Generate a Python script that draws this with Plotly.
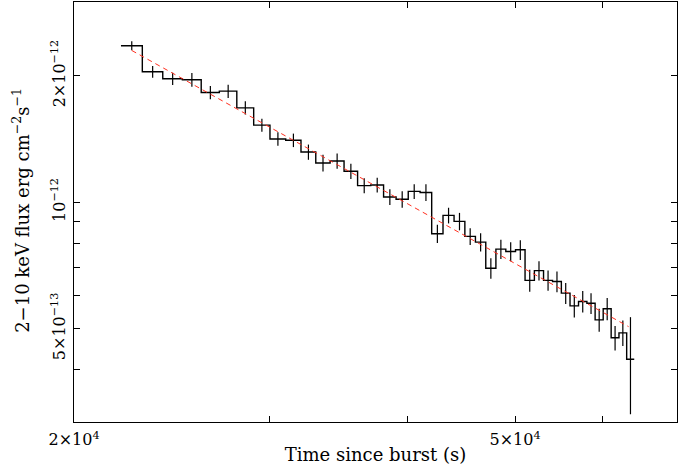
import plotly.graph_objects as go

# ---- data ----
time_s = [22550, 23550, 24550, 25550, 26550, 27550, 28550, 29550, 30550, 31550,
          32550, 33550, 34550, 35550, 36550, 37550, 38550, 39550, 40550, 41550,
          42550, 43550, 44550, 45550, 46550, 47550, 48550, 49550, 50550, 51550,
          52550, 53550, 54550, 55550, 56550, 57550, 58550, 59550, 60550, 61550,
          62550, 63550]
bin_half_width = 500
flux = [2.360, 2.046, 1.969, 1.958, 1.827, 1.840, 1.679, 1.527, 1.416, 1.406,
        1.318, 1.241, 1.255, 1.186, 1.096, 1.100, 1.030, 1.017, 1.062, 1.056,
        0.842, 0.931, 0.901, 0.830, 0.804, 0.697, 0.774, 0.764, 0.771, 0.652,
        0.688, 0.652, 0.648, 0.608, 0.567, 0.581, 0.575, 0.525, 0.558, 0.476,
        0.489, 0.423]
flux_err = [0.058, 0.065, 0.066, 0.074, 0.067, 0.067, 0.061, 0.055, 0.052, 0.052,
            0.055, 0.057, 0.052, 0.050, 0.045, 0.045, 0.044, 0.046, 0.043, 0.048,
            0.042, 0.040, 0.043, 0.038, 0.040, 0.039, 0.041, 0.040, 0.042, 0.039,
            0.036, 0.036, 0.037, 0.035, 0.035, 0.034, 0.033, 0.033, 0.034, 0.032,
            0.034, 0.110]
flux_scale = 1e-12
fit_time = [22550, 63300]
fit_flux = [2.30e-12, 0.506e-12]

x_tickvals = [2e4, 5e4]
x_ticktext = ["2×10<sup>4</sup>", "5×10<sup>4</sup>"]
x_minor = [3e4, 4e4, 6e4, 7e4]
y_tickvals = [5e-13, 1e-12, 2e-12]
y_ticktext = ["5×10<sup>−13</sup>", "10<sup>−12</sup>", "2×10<sup>−12</sup>"]
y_minor = [3e-13, 4e-13, 6e-13, 7e-13, 8e-13, 9e-13, 3e-12]
y_title = "2−10 keV flux erg cm<sup>−2</sup>s<sup>−1</sup>"
x_title = "Time since burst (s)"

# ---- derived ----
f = [v * flux_scale for v in flux]
fe = [v * flux_scale for v in flux_err]
edges = [t - bin_half_width for t in time_s] + [time_s[-1] + bin_half_width]
step_y = f + [f[-1]]

FONT = "DejaVu Serif"

fig = go.Figure()
fig.add_trace(go.Scatter(
    x=edges, y=step_y, mode="lines", line=dict(color="black", width=1.4, shape="hv"),
    hoverinfo="skip", showlegend=False))
fig.add_trace(go.Scatter(
    x=time_s, y=f, mode="markers", marker=dict(size=0.1, color="black", opacity=0),
    error_y=dict(type="data", array=fe, visible=True, color="black", thickness=1.2, width=0),
    showlegend=False))
fig.add_trace(go.Scatter(
    x=fit_time, y=fit_flux, mode="lines",
    line=dict(color="#ff3020", width=1, dash="5px,4px"), showlegend=False))

axis_common = dict(
    type="log", showgrid=False, zeroline=False, showline=True, linecolor="black",
    linewidth=1.2, mirror="allticks", ticks="inside", ticklen=6, tickwidth=1,
    tickcolor="black", tickfont=dict(family=FONT, size=16, color="black"),
    automargin=False,
)

fig.update_xaxes(
    **axis_common,
    range=[4.30103, 4.845098], tickmode="array", tickvals=x_tickvals, ticktext=x_ticktext,
    ticklabelstandoff=3,
    minor=dict(tickmode="array", tickvals=x_minor, ticks="inside", ticklen=6,
               tickcolor="black", tickwidth=1),
    title=dict(text=x_title, font=dict(family=FONT, size=18, color="black"), standoff=0),
)
fig.update_yaxes(
    **axis_common,
    range=[-12.5229, -11.5229], tickmode="array", tickvals=y_tickvals, ticktext=y_ticktext,
    tickangle=-90, ticklabelstandoff=2,
    minor=dict(tickmode="array", tickvals=y_minor, ticks="inside", ticklen=6,
               tickcolor="black", tickwidth=1),
)

fig.add_annotation(
    text=y_title, textangle=-90, xref="paper", yref="paper", x=-0.088, y=0.505,
    xanchor="center", yanchor="middle", showarrow=False,
    font=dict(family=FONT, size=18, color="black"),
)

fig.update_layout(
    width=683, height=470,
    margin=dict(l=74, r=6, t=2, b=48),
    paper_bgcolor="white", plot_bgcolor="white",
    font=dict(family=FONT, color="black"),
)

fig.write_html("out.html", config={"displayModeBar": False},
               post_script="document.body.style.margin='0';")
